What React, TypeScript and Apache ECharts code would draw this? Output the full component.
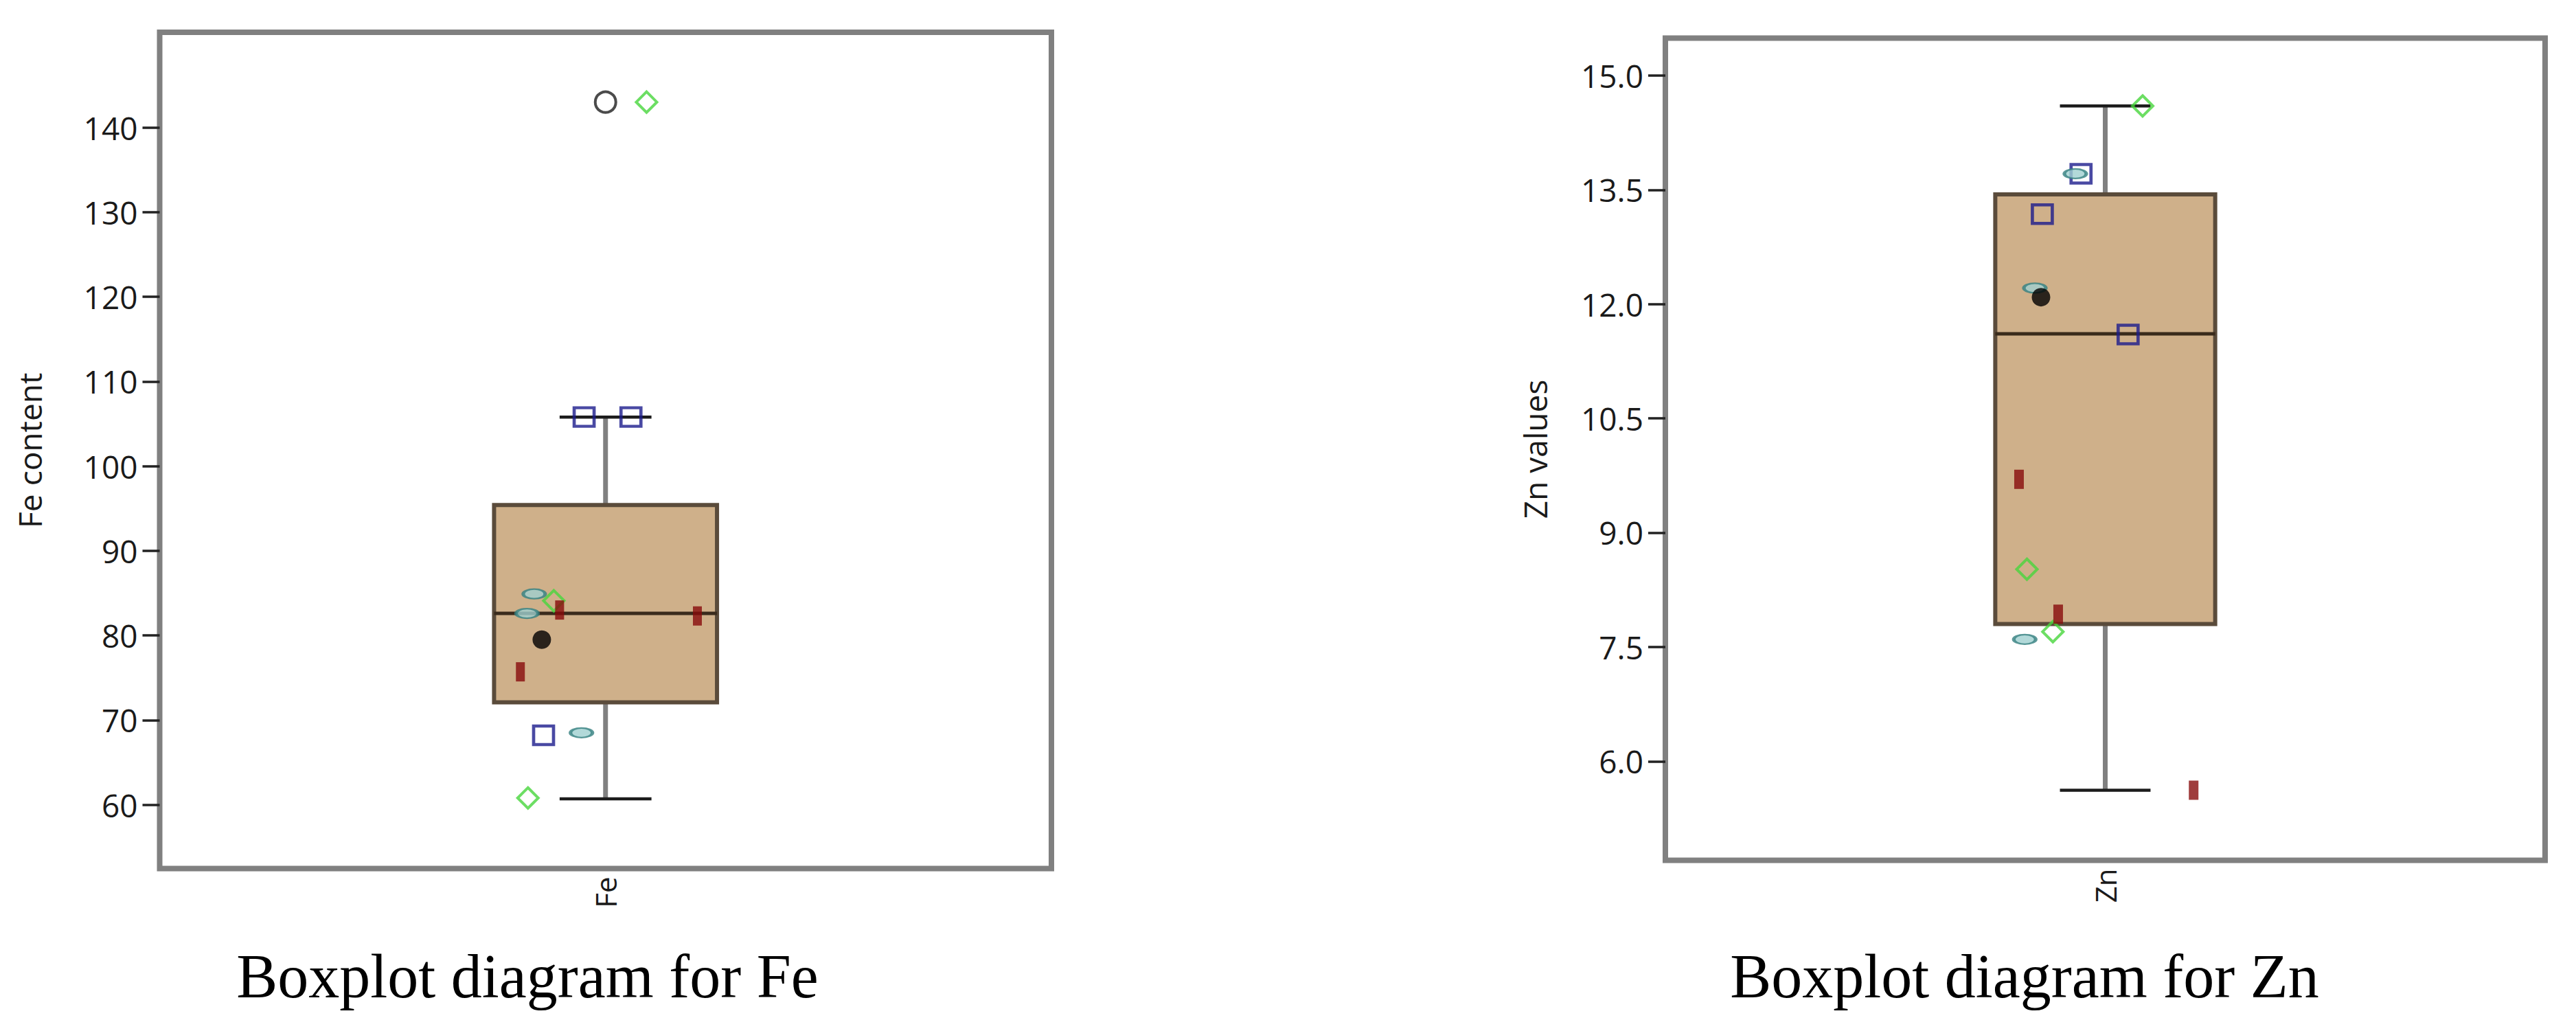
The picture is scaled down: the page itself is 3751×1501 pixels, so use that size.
import { useEffect, useRef } from "react";
import * as echarts from "echarts";

// Category names on the two x axes
const feCategory = ["Fe"];
const znCategory = ["Zn"];

// Box summaries: lower whisker, Q1, median, Q3, upper whisker
const feStats = [60.7, 72.1, 82.6, 95.4, 105.8];
const znStats = [5.62, 7.8, 11.61, 13.44, 14.6];

// Extreme value flagged as an outlier
const feOutliers = [143];

// Y-axis tick values
const feTicks = [60, 70, 80, 90, 100, 110, 120, 130, 140];
const znTicks = [6.0, 7.5, 9.0, 10.5, 12.0, 13.5, 15.0];

// Fe observations, grouped by marker, with horizontal jitter (-1..1 across the panel)
const feDiamondValues = [143, 84.1, 60.8];
const feDiamondJitter = [0.092, -0.116, -0.174];
const feSquareValues = [105.8, 105.8, 68.2];
const feSquareJitter = [-0.048, 0.057, -0.139];
const feEllipseValues = [84.9, 82.6, 68.5];
const feEllipseJitter = [-0.16, -0.176, -0.054];
const feBarValues = [83.0, 82.3, 75.7];
const feBarJitter = [-0.103, 0.206, -0.191];
const feDotValues = [79.5];
const feDotJitter = [-0.143];

// Zn observations, grouped by marker, with horizontal jitter
const znDiamondValues = [14.6, 8.52, 7.7];
const znDiamondJitter = [0.085, -0.178, -0.119];
const znSquareValues = [13.71, 13.18, 11.6];
const znSquareJitter = [-0.055, -0.143, 0.052];
const znEllipseValues = [13.71, 12.21, 7.6];
const znEllipseJitter = [-0.068, -0.16, -0.183];
const znBarValues = [9.7, 7.93, 5.62];
const znBarJitter = [-0.196, -0.107, 0.201];
const znDotValues = [12.09];
const znDotJitter = [-0.146];

const LABEL_FONT = '"Open Sans", "Noto Sans", sans-serif';
const CAPTION_FONT = '"Liberation Serif", "DejaVu Serif", serif';
const ELLIPSE =
  "path://M0,5C0,2.24,4.48,0,10,0C15.52,0,20,2.24,20,5C20,7.76,15.52,10,10,10C4.48,10,0,7.76,0,5Z";

const BOX_HALF = 0.25;
const CAP_HALF = 0.103;

function boxRender(_params: any, api: any) {
  const xc = api.value(0);
  const low = api.value(1);
  const q1 = api.value(2);
  const med = api.value(3);
  const q3 = api.value(4);
  const high = api.value(5);
  const cx = api.coord([xc, med])[0];
  const left = api.coord([xc - BOX_HALF, med])[0];
  const right = api.coord([xc + BOX_HALF, med])[0];
  const capL = api.coord([xc - CAP_HALF, med])[0];
  const capR = api.coord([xc + CAP_HALF, med])[0];
  const yLow = api.coord([xc, low])[1];
  const yQ1 = api.coord([xc, q1])[1];
  const yMed = api.coord([xc, med])[1];
  const yQ3 = api.coord([xc, q3])[1];
  const yHigh = api.coord([xc, high])[1];
  const whisker = { stroke: "#808080", lineWidth: 7 };
  const cap = { stroke: "#1c1c1c", lineWidth: 4.5 };
  return {
    type: "group",
    children: [
      { type: "line", shape: { x1: cx, y1: yQ3, x2: cx, y2: yHigh }, style: whisker },
      { type: "line", shape: { x1: cx, y1: yQ1, x2: cx, y2: yLow }, style: whisker },
      {
        type: "rect",
        shape: { x: left, y: yQ3, width: right - left, height: yQ1 - yQ3 },
        style: { fill: "#cfb08a", stroke: "#5a4b3b", lineWidth: 6 },
      },
      { type: "line", shape: { x1: left, y1: yMed, x2: right, y2: yMed }, style: { stroke: "#3a2b1c", lineWidth: 5 } },
      { type: "line", shape: { x1: capL, y1: yHigh, x2: capR, y2: yHigh }, style: cap },
      { type: "line", shape: { x1: capL, y1: yLow, x2: capR, y2: yLow }, style: cap },
    ],
  };
}

function points(
  values: number[],
  jitter: number[],
  axis: number,
  symbol: string,
  symbolSize: number | number[],
  itemStyle: any
) {
  return {
    type: "scatter",
    xAxisIndex: axis * 2 + 1,
    yAxisIndex: axis,
    z: 4,
    symbol,
    symbolSize,
    itemStyle,
    silent: true,
    data: values.map((v, i) => [jitter[i], v]),
  };
}

const squareStyle = { color: "transparent", borderColor: "#1c1c8c", borderWidth: 4.5 };
const diamondStyle = { color: "transparent", borderColor: "#47d63c", borderWidth: 4 };
const ellipseStyle = { color: "#9fcfcf", borderColor: "#35807f", borderWidth: 3.5 };
const barStyle = { color: "#870b0b" };
const dotStyle = { color: "#000000" };
const outlierStyle = { color: "#ffffff", borderColor: "#1e1e1e", borderWidth: 4 };

function yAxis(gridIndex: number, name: string, min: number, max: number, ticks: number[], digits: number) {
  return {
    type: "value",
    gridIndex,
    min,
    max,
    name,
    nameLocation: "middle",
    nameGap: 167,
    nameTextStyle: { fontFamily: LABEL_FONT, fontSize: 46, color: "#1a1a1a" },
    splitLine: { show: false },
    axisLine: { show: false, onZero: false },
    axisTick: {
      show: true,
      length: 25,
      customValues: ticks,
      lineStyle: { color: "#222222", width: 3.5 },
    },
    axisLabel: {
      customValues: ticks,
      margin: 32,
      fontFamily: LABEL_FONT,
      fontSize: 46,
      color: "#1a1a1a",
      formatter: (v: number) => v.toFixed(digits),
    },
  };
}

function categoryAxis(gridIndex: number, data: string[]) {
  return {
    type: "category",
    gridIndex,
    position: "bottom",
    data,
    axisLine: { show: false, onZero: false },
    axisTick: { show: false },
    axisLabel: {
      rotate: 90,
      margin: 12,
      fontFamily: LABEL_FONT,
      fontSize: 42,
      color: "#1a1a1a",
    },
  };
}

function jitterAxis(gridIndex: number) {
  return {
    type: "value",
    gridIndex,
    min: -1,
    max: 1,
    show: false,
    position: "bottom",
    axisLine: { show: false, onZero: false },
  };
}

export default function App() {
  const ref = useRef<HTMLDivElement>(null);

  useEffect(() => {
    if (!ref.current) return;
    const chart = echarts.init(ref.current, undefined, { renderer: "svg" });
    chart.setOption({
      animation: false,
      backgroundColor: "#ffffff",
      grid: [
        { left: 232.5, top: 47, width: 1298.5, height: 1217.5, show: true, borderColor: "#808080", borderWidth: 8, containLabel: false },
        { left: 2425, top: 55.5, width: 1281, height: 1197, show: true, borderColor: "#808080", borderWidth: 8, containLabel: false },
      ],
      xAxis: [categoryAxis(0, feCategory), jitterAxis(0), categoryAxis(1, znCategory), jitterAxis(1)],
      yAxis: [
        yAxis(0, "Fe content", 52.46, 151.25, feTicks, 0),
        yAxis(1, "Zn values", 4.7, 15.49, znTicks, 1),
      ],
      series: [
        {
          type: "custom",
          xAxisIndex: 1,
          yAxisIndex: 0,
          renderItem: boxRender,
          encode: { x: 0, y: [1, 2, 3, 4, 5] },
          data: [[0, ...feStats]],
          z: 2,
          silent: true,
        },
        {
          type: "custom",
          xAxisIndex: 3,
          yAxisIndex: 1,
          renderItem: boxRender,
          encode: { x: 0, y: [1, 2, 3, 4, 5] },
          data: [[0, ...znStats]],
          z: 2,
          silent: true,
        },
        points(feOutliers, feOutliers.map(() => 0), 0, "circle", 30, outlierStyle),
        points(feSquareValues, feSquareJitter, 0, "rect", [29, 27], squareStyle),
        points(feEllipseValues, feEllipseJitter, 0, ELLIPSE, [32, 14], ellipseStyle),
        points(feDiamondValues, feDiamondJitter, 0, "diamond", 30, diamondStyle),
        points(feBarValues, feBarJitter, 0, "rect", [13, 28], barStyle),
        points(feDotValues, feDotJitter, 0, "circle", 27, dotStyle),
        points(znSquareValues, znSquareJitter, 1, "rect", [29, 27], squareStyle),
        points(znEllipseValues, znEllipseJitter, 1, ELLIPSE, [32, 14], ellipseStyle),
        points(znDiamondValues, znDiamondJitter, 1, "diamond", 30, diamondStyle),
        points(znBarValues, znBarJitter, 1, "rect", [14, 28], barStyle),
        points(znDotValues, znDotJitter, 1, "circle", 27, dotStyle),
      ],
      graphic: [
        {
          type: "text",
          x: 768,
          y: 1421,
          style: {
            text: "Boxplot diagram for Fe",
            fontFamily: CAPTION_FONT,
            fontSize: 90,
            fill: "#000000",
            align: "center",
            verticalAlign: "middle",
          },
        },
        {
          type: "text",
          x: 2948,
          y: 1421,
          style: {
            text: "Boxplot diagram for Zn",
            fontFamily: CAPTION_FONT,
            fontSize: 90,
            fill: "#000000",
            align: "center",
            verticalAlign: "middle",
          },
        },
      ],
    });
    return () => chart.dispose();
  }, []);

  return (
    <div
      ref={ref}
      style={{ position: "absolute", left: 0, top: 0, width: 3751, height: 1501, background: "#ffffff" }}
    />
  );
}
